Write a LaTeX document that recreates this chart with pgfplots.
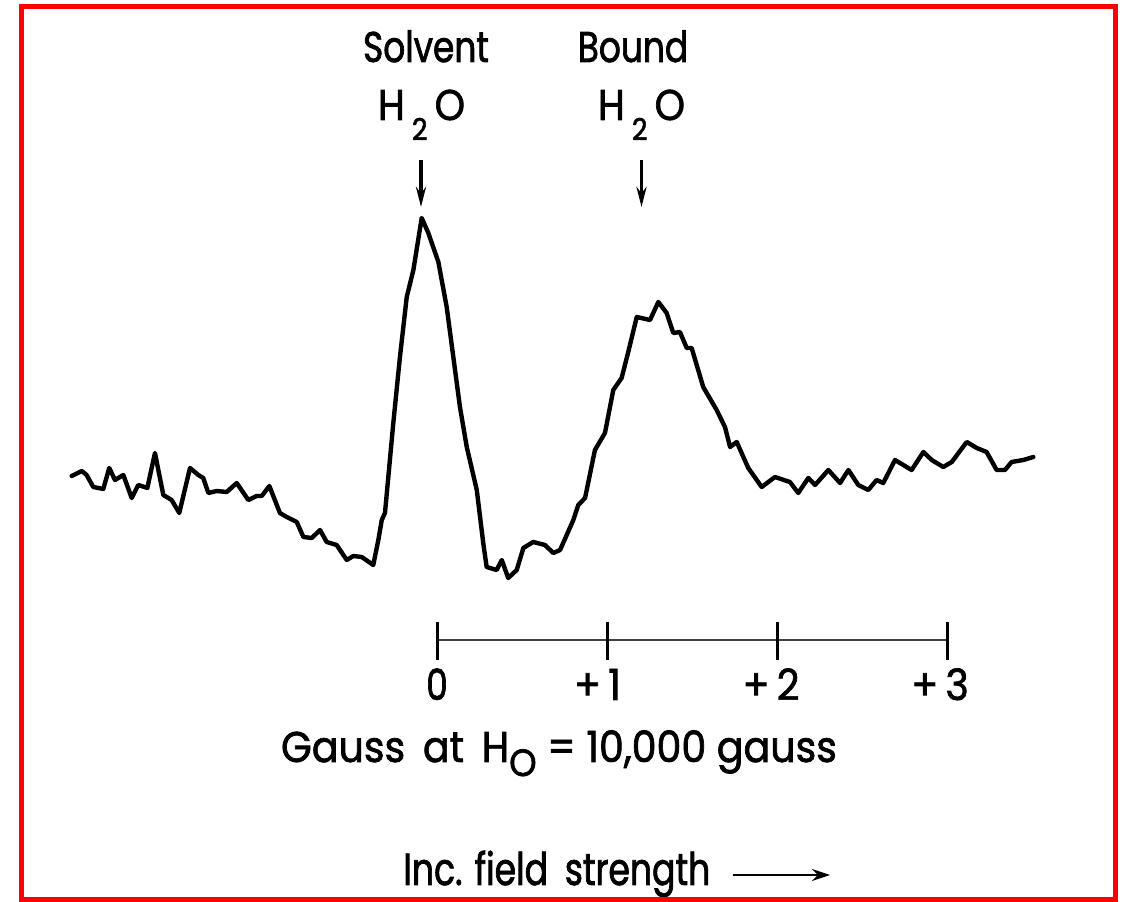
\documentclass[border=0pt]{standalone}
\usepackage{fontspec}
\setmainfont{Poppins}[FakeStretch=0.8, FakeBold=1.6]
\newfontfamily\narrowfont{Poppins}[FakeStretch=0.77, FakeBold=1.6]
\newfontfamily\widefont{Poppins}[FakeStretch=0.92, FakeBold=1.6]
\newfontfamily\hfont{Poppins}[FakeStretch=0.9, FakeBold=1.6]
\usepackage{graphicx}
\usepackage{pgfplots}
\pgfplotsset{compat=1.18}
\usetikzlibrary{arrows.meta}

\begin{document}
\begin{tikzpicture}
\begin{axis}[
  x=85pt, y=0.5pt,
  xmin=-2.5706, xmax=4.0412, ymin=-302, ymax=600,
  axis lines=none, clip=false, scale only axis,
]
\path (axis cs:-2.5706,-302) rectangle (axis cs:4.0412,600);

% spectrum
\addplot[black, line width=2.2pt, line join=round, line cap=round] coordinates {
(-2.149,124) (-2.090,129) (-2.061,125) (-2.022,113) (-1.992,112) (-1.963,111)
(-1.928,132) (-1.894,120) (-1.845,125) (-1.796,102) (-1.757,115) (-1.704,112)
(-1.659,147) (-1.610,105) (-1.561,100) (-1.516,87) (-1.453,132) (-1.404,125)
(-1.375,122) (-1.345,107) (-1.296,109) (-1.237,108) (-1.178,117) (-1.110,100)
(-1.061,104) (-1.031,104) (-0.986,114) (-0.924,87) (-0.884,83) (-0.825,78)
(-0.786,63) (-0.737,62) (-0.688,70) (-0.649,58) (-0.590,55) (-0.531,40)
(-0.492,44) (-0.443,43) (-0.375,35) (-0.345,60) (-0.325,80) (-0.306,87)
(-0.257,177) (-0.218,243) (-0.178,303) (-0.139,330) (-0.090,382) (-0.051,367)
(0.008,338) (0.057,293) (0.096,243) (0.135,193) (0.175,153) (0.234,110)
(0.272,57) (0.292,33) (0.351,30) (0.381,40) (0.419,22) (0.469,30)
(0.508,52) (0.566,58) (0.635,55) (0.684,47) (0.724,50) (0.802,80)
(0.831,95) (0.871,102) (0.929,150) (0.988,167) (1.037,210) (1.086,222)
(1.125,248) (1.175,283) (1.253,280) (1.302,298) (1.351,287) (1.390,267)
(1.429,268) (1.469,252) (1.498,252) (1.566,213) (1.645,190) (1.694,173)
(1.724,153) (1.763,158) (1.831,132) (1.910,113) (1.988,123) (2.076,118)
(2.125,107) (2.184,122) (2.224,115) (2.302,130) (2.371,117) (2.420,130)
(2.478,115) (2.537,110) (2.586,120) (2.625,117) (2.694,140) (2.743,135)
(2.792,130) (2.861,148) (2.910,140) (2.978,133) (3.028,138) (3.116,158)
(3.175,152) (3.233,148) (3.292,130) (3.341,130) (3.380,138) (3.449,140)
(3.508,143)
};

% peak labels
\node[anchor=base, inner sep=0pt, font=\fontsize{21.5}{24}\selectfont] at (axis cs:-0.0647,538) {Solvent};
\node[anchor=base, inner sep=0pt, font=\fontsize{21.5}{24}\selectfont] at (axis cs:1.1529,538) {Bound};
\node[anchor=base, inner sep=0pt, font=\fontsize{21.5}{24}\hfont] at (axis cs:-0.091,480) {H\,\raisebox{-10pt}{\fontsize{15}{15}\selectfont 2}\,O};
\node[anchor=base, inner sep=0pt, font=\fontsize{21.5}{24}\hfont] at (axis cs:1.203,480) {H\,\raisebox{-10pt}{\fontsize{15}{15}\selectfont 2}\,O};
\draw[black, line width=1.7pt, -{Stealth[length=10pt,width=5pt]}] (axis cs:-0.0941,440) -- (axis cs:-0.0941,393);
\draw[black, line width=1.7pt, -{Stealth[length=10pt,width=5pt]}] (axis cs:1.203,440) -- (axis cs:1.203,393);

% scale bar
\draw[black!75, line width=1.4pt] (axis cs:0,-40) -- (axis cs:3,-40);
\draw[black, line width=1.5pt] (axis cs:0,-22) -- (axis cs:0,-60);
\draw[black, line width=1.5pt] (axis cs:1,-22) -- (axis cs:1,-60);
\draw[black, line width=1.5pt] (axis cs:2,-22) -- (axis cs:2,-60);
\draw[black, line width=1.5pt] (axis cs:3,-22) -- (axis cs:3,-60);
\node[anchor=base, inner sep=0pt, font=\fontsize{21.5}{24}\selectfont] at (axis cs:0,-100) {0};
\node[anchor=base, inner sep=0pt, font=\fontsize{21.5}{24}\widefont] at (axis cs:0.944,-100) {+\,1};
\node[anchor=base, inner sep=0pt, font=\fontsize{21.5}{24}\widefont] at (axis cs:1.965,-100) {+\,2};
\node[anchor=base, inner sep=0pt, font=\fontsize{21.5}{24}\widefont] at (axis cs:2.959,-100) {+\,3};
\node[anchor=base, inner sep=0pt, font=\fontsize{21.5}{24}\widefont] at (axis cs:0.7176,-162) {Gauss\, at\, H\raisebox{-7pt}{\fontsize{19}{19}\selectfont O} = 10,000 gauss};

% field direction
\node[anchor=base west, inner sep=0pt, font=\fontsize{22.5}{26}\narrowfont] at (axis cs:-0.2,-285) {Inc. field\, strength};
\draw[black, line width=1.4pt, -{Stealth[length=9pt,width=6pt]}] (axis cs:1.741,-275) -- (axis cs:2.312,-275);

% red frame
\draw[red, line width=2.5pt] (axis cs:-2.4441,593.5) rectangle (axis cs:3.9912,-299.5);
\end{axis}
\end{tikzpicture}
\end{document}
